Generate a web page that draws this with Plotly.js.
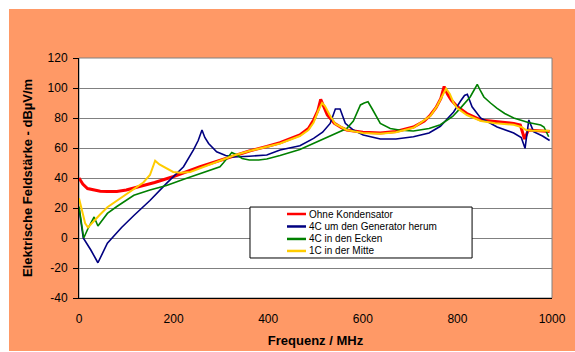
<!DOCTYPE html>
<html>
<head>
<meta charset="utf-8">
<script src="https://cdn.plot.ly/plotly-3.0.1.min.js"></script>
<style>
  html, body { margin: 0; padding: 0; background: #ffffff; }
  #chart { position: absolute; left: 9px; top: 9px; width: 566px; height: 342px; }
</style>
</head>
<body>
<div id="chart"></div>
<script>
// ---- Data ----
const seriesNames = ["Ohne Kondensator", "4C um den Generator herum", "4C in den Ecken", "1C in der Mitte"];
const seriesColors = ["#FF0000", "#000080", "#008000", "#FFCC00"];

const redFreq = [0,8,18,30,45,60,80,100,116,130,160,200,256,300,327,360,397,425,467,485,496,505,511,517,525,540,555,566,585,600,637,670,707,730,743,755,765,772,779,787,800,820,849,880,919,933,942,950,970,995];
const redVal  = [40,36,33,32,31.2,31,31,32,33.5,34.5,37,41,47.5,52,55,58,61,63.5,68.7,73,78.7,85,92.4,88,82,76.5,73.5,72,71,70.5,70,71,74,78,82,87,93,101,96,92,87.5,83,78.7,77.5,76.4,75.3,66,72,71.5,71];

const blueFreq = [0,9,25,40,60,72,90,116,150,185,221,242,252,260,266,274,291,310,327,360,397,425,467,496,515,531,542,552,563,580,601,637,670,707,740,764,792,806,815,821,826,831,849,884,919,935,943,951,961,980,995];
const blueVal  = [20,0,-8,-16.5,-3.5,1,7,15,25,36.4,47.5,58.7,65,72,67,63,57.5,55,54,54.5,55.3,58.7,61.5,66.4,70.5,76.4,86,86,76.5,72,68.7,66,66,67.5,70,74.5,84,91,95,95.8,92,87.5,80,74,70,67,59.8,78.7,70.9,68,65];

const greenFreq = [0,10,20,32,40,50,60,80,116,150,185,220,256,280,298,305,312,318,323,333,345,360,380,397,425,467,496,530,566,580,595,603,611,620,637,658,680,707,740,764,790,806,820,827,835,842,849,856,870,884,900,919,950,976,983,993];
const greenVal  = [21,0,7,14,8,12,16.4,21,28.5,32,35,39,42.7,45.5,47.5,50,53,55.5,57,55.5,53,52,52,52.7,55,59,63,67.5,73,78,88.7,90,90.8,86,76.4,73,71.8,71.3,73,75.5,81,86.4,91,94,98.5,102.4,98,94,90,86.4,83,80,77,75.3,74,67.5];

const yellowFreq = [0,6,13,19,30,44,60,80,100,116,136,150,161,170,185,199,215,235,260,300,327,360,397,425,467,485,496,506,514,520,530,542,566,600,637,670,707,743,757,767,776,784,792,800,820,850,880,919,935,945,960,995];
const yellowVal  = [26.5,18,9.8,7,11,15.5,20.5,25,29,32.5,37,42,51.5,49,46.4,44,43.5,44,47,51.5,55,58,61,63,68,72,77,85,90,88,82,76,72,70,69.5,70.5,73.5,81.5,88,94,99.5,96,90,86.5,82,78,76.5,75.5,74,72,71.5,71.5];

const xTicks = [0,200,400,600,800,1000];
const yTicks = [-40,-20,0,20,40,60,80,100,120];

// ---- Traces ----
const widths = [3, 1.6, 1.6, 2];
const freqs = [redFreq, blueFreq, greenFreq, yellowFreq];
const vals = [redVal, blueVal, greenVal, yellowVal];
const traces = freqs.map((f, i) => ({
  x: f, y: vals[i], type: 'scatter', mode: 'lines', name: seriesNames[i],
  line: {color: seriesColors[i], width: widths[i]}, showlegend: false, hoverinfo: 'skip'
}));

// ---- Manual legend (Excel style) ----
const lx0 = 0.3615, lx1 = 0.831, ly0 = 0.1667, ly1 = 0.379;
const rowY = [0.35, 0.298, 0.246, 0.196];
const shapes = [
  {type: 'rect', xref: 'paper', yref: 'paper', x0: 0, x1: 1, y0: 0, y1: 1,
   line: {color: '#808080', width: 1}, layer: 'below'},
  {type: 'rect', xref: 'paper', yref: 'paper', x0: lx0, x1: lx1, y0: ly0, y1: ly1,
   line: {color: '#000000', width: 1}, fillcolor: '#ffffff', layer: 'above'}
];
const annotations = [];
seriesNames.forEach((n, i) => {
  shapes.push({type: 'line', xref: 'paper', yref: 'paper', x0: 0.4397, x1: 0.4799, y0: rowY[i], y1: rowY[i],
    line: {color: seriesColors[i], width: 2.5}, layer: 'above'});
  annotations.push({xref: 'paper', yref: 'paper', x: 0.483, y: rowY[i], xanchor: 'left', yanchor: 'middle',
    text: n, showarrow: false, font: {family: 'Liberation Sans, Arial, sans-serif', size: 10, color: '#000'}});
});

const layout = {
  width: 566, height: 342,
  margin: {l: 70, r: 23, t: 49, b: 53},
  paper_bgcolor: '#FF9966',
  plot_bgcolor: '#ffffff',
  font: {family: 'Liberation Sans, Arial, sans-serif', size: 12, color: '#000'},
  showlegend: false,
  xaxis: {
    range: [0, 1000], tickvals: xTicks, ticktext: xTicks.map(String),
    showgrid: false, zeroline: false, showline: true, linecolor: '#000', linewidth: 1,
    ticks: '', ticklabelstandoff: 10,
    tickfont: {size: 12, color: '#000'},
    title: {text: 'Frequenz / MHz', font: {size: 13, color: '#000', family: 'Liberation Sans, Arial, sans-serif', weight: 'bold'}, standoff: 10}
  },
  yaxis: {
    range: [-40, 120], tickvals: yTicks, ticktext: yTicks.map(String),
    showgrid: true, gridcolor: '#808080', gridwidth: 1, zeroline: false,
    showline: true, linecolor: '#000', linewidth: 1,
    ticks: 'outside', ticklen: 5, tickcolor: '#000', ticklabelstandoff: 3,
    tickfont: {size: 12, color: '#000'},
    title: {text: 'Elektrische Feldstärke - dBµV/m', font: {size: 13, color: '#000', family: 'Liberation Sans, Arial, sans-serif', weight: 'bold'}, standoff: 12}
  },
  shapes: shapes,
  annotations: annotations
};

Plotly.newPlot('chart', traces, layout, {staticPlot: true, displayModeBar: false});
</script>
</body>
</html>
